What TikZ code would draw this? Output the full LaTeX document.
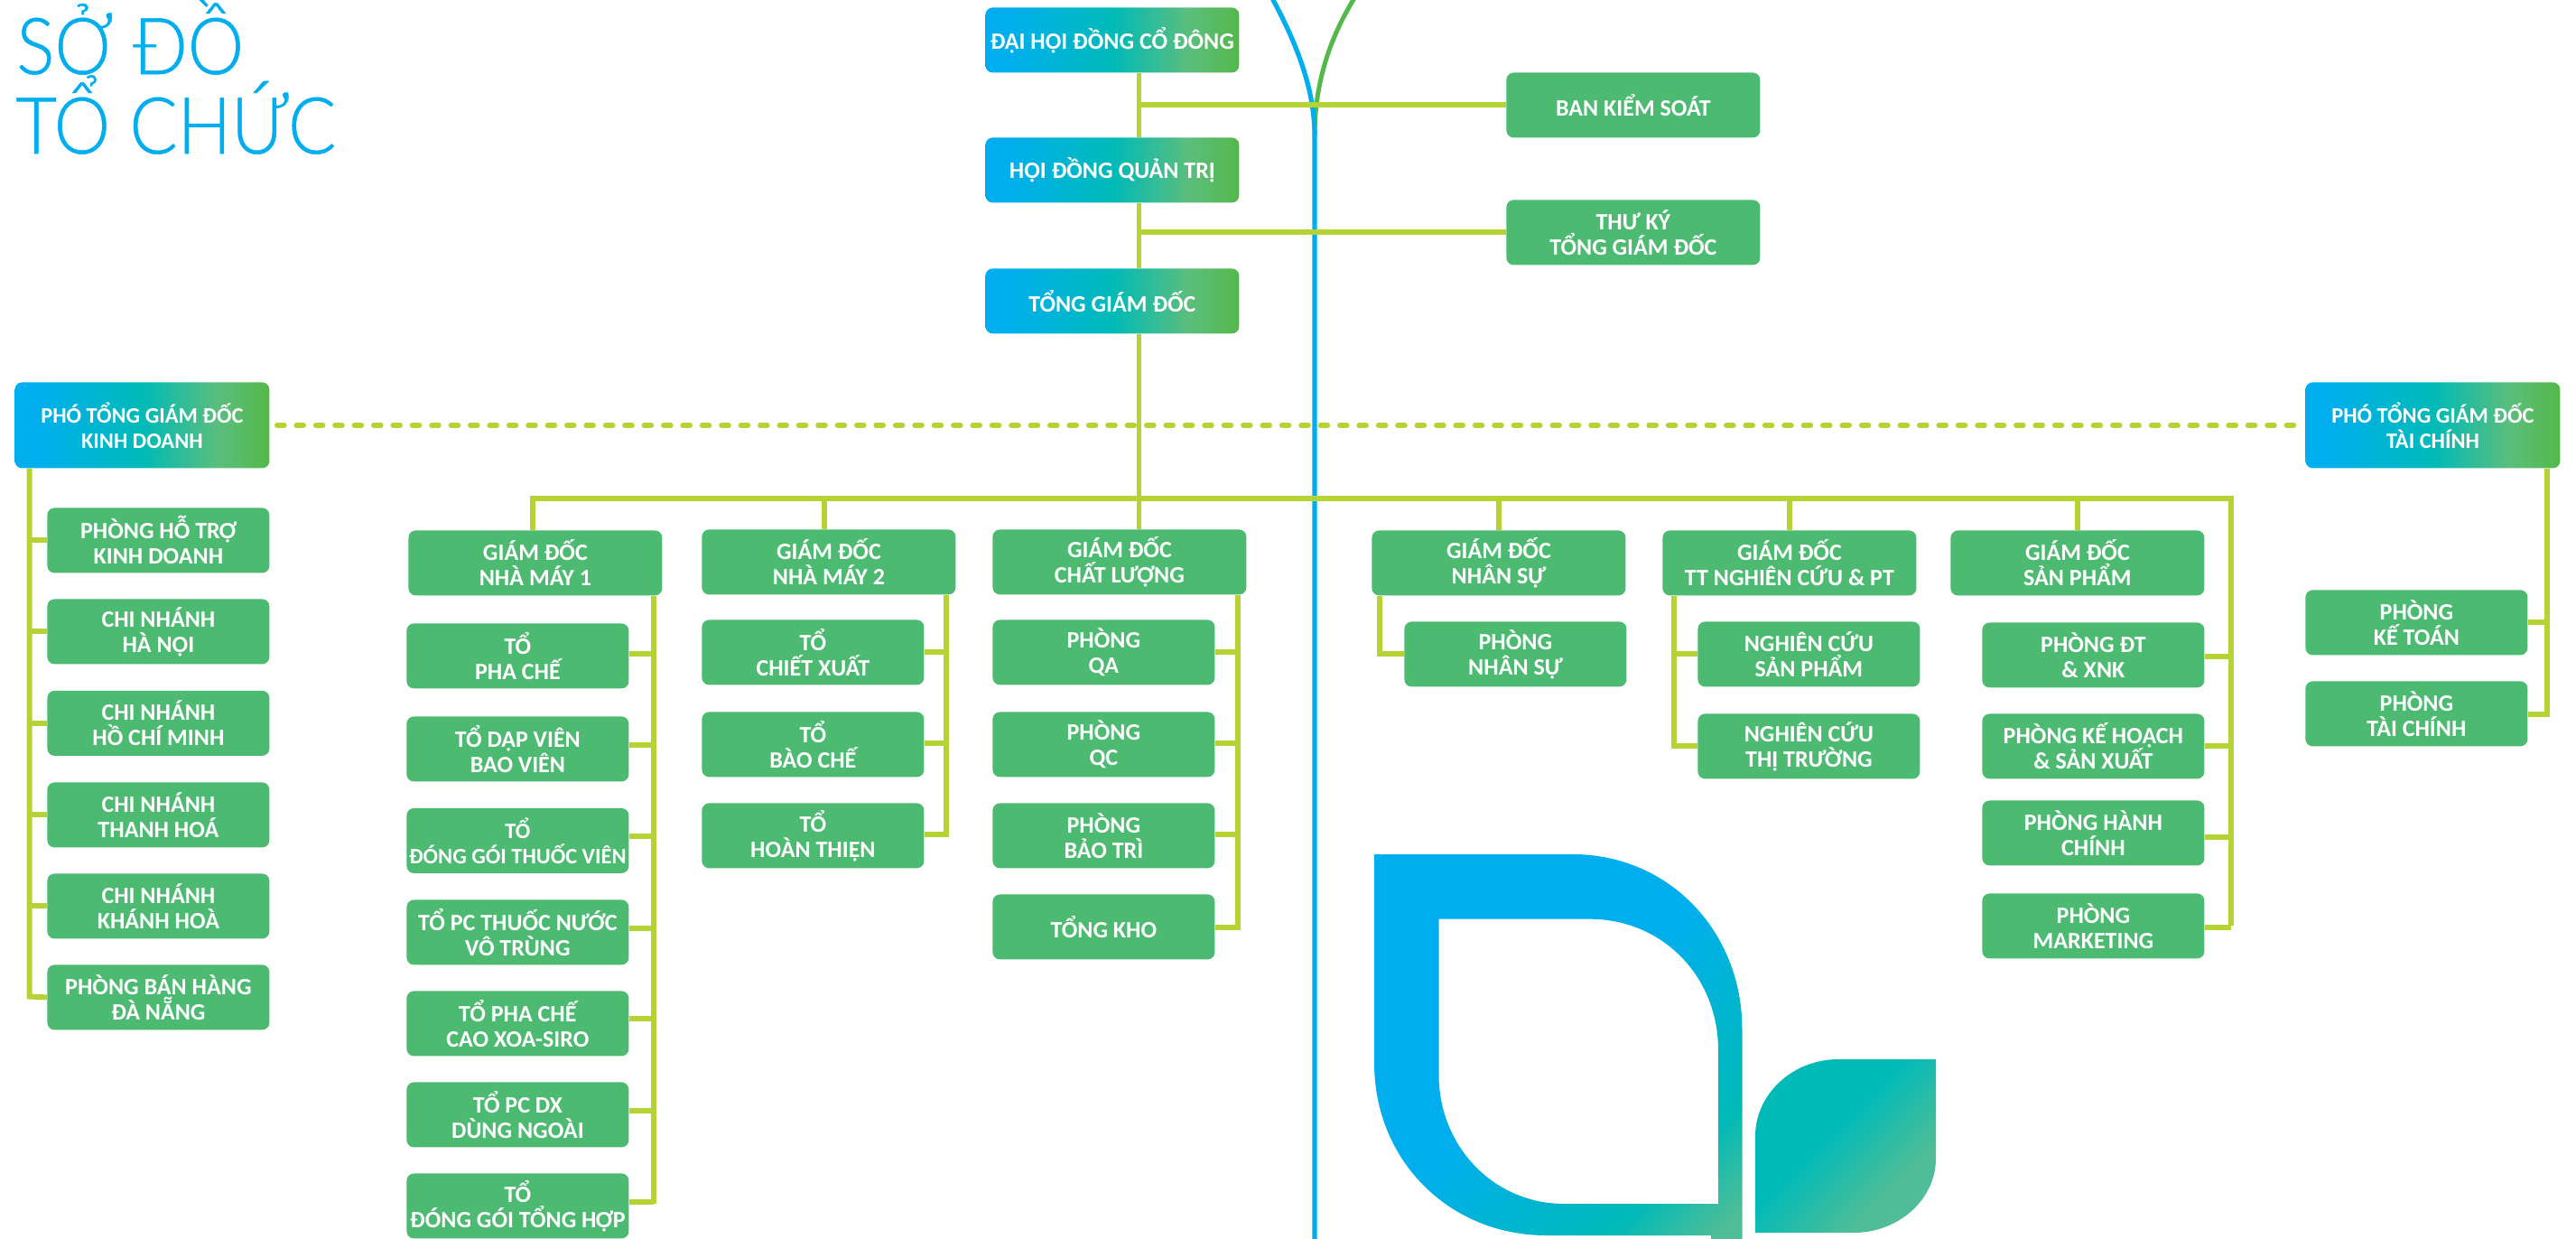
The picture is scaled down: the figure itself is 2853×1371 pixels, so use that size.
\documentclass[tikz,border=0pt]{standalone}
\usepackage{fontspec}
\setmainfont{Carlito}
\newfontfamily\titlefont[FakeStretch=0.905,FakeBold=0.6]{Lato Light}
\definecolor{boxgreen}{HTML}{4DBA72}
\definecolor{linegreen}{HTML}{B5D334}
\definecolor{skyblue}{HTML}{00AEEF}
\definecolor{teal}{HTML}{00BAB8}
\definecolor{midgreen}{HTML}{5BBE7C}
\definecolor{endgreen}{HTML}{55B84A}
\definecolor{softgreen}{HTML}{4FBD97}
\pgfdeclarehorizontalshading{boxgrad}{100bp}{color(0bp)=(skyblue);color(29bp)=(skyblue);color(50bp)=(teal);color(65bp)=(midgreen);color(75bp)=(endgreen);color(100bp)=(endgreen)}
\pgfdeclarehorizontalshading{biglogo}{100bp}{color(0bp)=(skyblue);color(48bp)=(skyblue);color(72bp)=(teal);color(82bp)=(softgreen);color(100bp)=(softgreen)}
\pgfdeclarehorizontalshading{smalllogo}{100bp}{color(0bp)=(teal);color(44bp)=(teal);color(68bp)=(softgreen);color(100bp)=(softgreen)}
\tikzset{
  boxbase/.style={anchor=north west,rounded corners=4pt,inner sep=0pt,text=white,align=center,
    font=\fontsize{13}{14}\selectfont\bfseries},
  smalltext/.style={font=\fontsize{12.2}{14}\selectfont\bfseries},
  leaf/.style={boxbase,fill=boxgreen,minimum width=123pt,minimum height=36pt},
  head/.style={boxbase,fill=boxgreen,minimum width=140.5pt,minimum height=36pt},
  grad/.style={boxbase,shade,shading=boxgrad,minimum width=140.5pt,minimum height=36pt},
  gradtall/.style={grad,smalltext,minimum width=141pt,minimum height=47.5pt},
  link/.style={draw=linegreen,line width=3pt},
  thinlink/.style={draw=linegreen,line width=2.3pt},
  dashlink/.style={draw=linegreen,line width=2.8pt,line cap=round,dash pattern=on 4pt off 6.7pt},
  titletext/.style={anchor=base west,inner sep=0pt,text=skyblue,font=\fontsize{43.5}{43.5}\selectfont\titlefont}
}
\begin{document}
\begin{tikzpicture}[x=0.5pt,y=-0.5pt]
\useasboundingbox (0,0) rectangle (2853,1371);
% logo
\begin{scope}
\clip (0,0) rectangle (2853,1371);
\shade[shading=biglogo,shading angle=-45,even odd rule]
  (1522,946) -- (1742,946) .. controls (1847,946) and (1929.5,1030) .. (1929.5,1140) -- (1929.5,1380) -- (1895,1380) -- (1895,1368) -- (1713,1368)
  .. controls (1605,1368) and (1522,1285) .. (1522,1177) -- cycle
  (1593.5,1017.7) -- (1593.5,1190) .. controls (1593.5,1270) and (1655,1333) .. (1732,1333) -- (1903,1333) -- (1903,1163)
  .. controls (1903,1080) and (1840,1017.7) .. (1761,1017.7) -- cycle;
\shade[shading=smalllogo,shading angle=-45]
  (2144,1173) -- (2036,1173) .. controls (1985,1173) and (1944,1212) .. (1944,1258) -- (1944,1365) -- (2053,1365)
  .. controls (2103,1365) and (2144,1328) .. (2144,1283) -- cycle;
\end{scope}
% curves
\draw[endgreen,line width=2.5pt] (1500,-2) .. controls (1474,40) and (1456,90) .. (1456,150);
\draw[skyblue,line width=2.6pt] (1409,-2) .. controls (1437,50) and (1456,100) .. (1456,150) -- (1456,1373);
% title
\node[titletext] (t1) at (18,82) {SỞ ĐỒ};
\node[titletext] (t2) at (17,170) {TỔ CHỨC};
% top
\node[grad] (dh) at (1091,8) {ĐẠI HỘI ĐỒNG CỔ ĐÔNG};
\node[grad] (hd) at (1091,152) {HỘI ĐỒNG QUẢN TRỊ};
\node[grad] (tg) at (1091,297) {TỔNG GIÁM ĐỐC};
\node[head] (bk) at (1668,80) {BAN KIỂM SOÁT};
\node[head] (tk) at (1668,221) {THƯ KÝ\\TỔNG GIÁM ĐỐC};
% vice directors
\node[gradtall] (kd) at (16,423) {PHÓ TỔNG GIÁM ĐỐC\\KINH DOANH};
\node[gradtall] (tc) at (2553,423) {PHÓ TỔNG GIÁM ĐỐC\\TÀI CHÍNH};
% left column
\node[leaf] (l1) at (52,562) {PHÒNG HỖ TRỢ\\KINH DOANH};
\node[leaf] (l2) at (52,663) {CHI NHÁNH\\HÀ NỘI};
\node[leaf] (l3) at (52,764.5) {CHI NHÁNH\\HỒ CHÍ MINH};
\node[leaf] (l4) at (52,866) {CHI NHÁNH\\THANH HOÁ};
\node[leaf] (l5) at (52,967) {CHI NHÁNH\\KHÁNH HOÀ};
\node[leaf] (l6) at (52,1068) {PHÒNG BÁN HÀNG\\ĐÀ NẴNG};
% factory 1
\node[head] (nm1) at (452,587) {GIÁM ĐỐC\\NHÀ MÁY 1};
\node[leaf] (a1) at (450,690) {TỔ\\PHA CHẾ};
\node[leaf] (a2) at (450,793) {TỔ DẬP VIÊN\\BAO VIÊN};
\node[leaf,smalltext] (a3) at (450,894.5) {TỔ\\ĐÓNG GÓI THUỐC VIÊN};
\node[leaf] (a4) at (450,996) {TỔ PC THUỐC NƯỚC\\VÔ TRÙNG};
\node[leaf] (a5) at (450,1097) {TỔ PHA CHẾ\\CAO XOA-SIRO};
\node[leaf] (a6) at (450,1198) {TỔ PC DX\\DÙNG NGOÀI};
\node[leaf] (a7) at (450,1299) {TỔ\\ĐÓNG GÓI TỔNG HỢP};
% factory 2
\node[head] (nm2) at (777,586) {GIÁM ĐỐC\\NHÀ MÁY 2};
\node[leaf] (b1) at (777,686) {TỔ\\CHIẾT XUẤT};
\node[leaf] (b2) at (777,788) {TỔ\\BÀO CHẾ};
\node[leaf] (b3) at (777,889) {TỔ\\HOÀN THIỆN};
% quality
\node[head] (cl) at (1099,586) {GIÁM ĐỐC\\CHẤT LƯỢNG};
\node[leaf] (c1) at (1099,686) {PHÒNG\\QA};
\node[leaf] (c2) at (1099,788) {PHÒNG\\QC};
\node[leaf] (c3) at (1099,889) {PHÒNG\\BẢO TRÌ};
\node[leaf] (c4) at (1099,990) {TỔNG KHO};
% HR
\node[head] (ns) at (1519,587) {GIÁM ĐỐC\\NHÂN SỰ};
\node[leaf] (d1) at (1555,688) {PHÒNG\\NHÂN SỰ};
% research
\node[head] (nc) at (1841,587) {GIÁM ĐỐC\\TT NGHIÊN CỨU \& PT};
\node[leaf] (e1) at (1880,688) {NGHIÊN CỨU\\SẢN PHẨM};
\node[leaf] (e2) at (1880,790) {NGHIÊN CỨU\\THỊ TRƯỜNG};
% product
\node[head] (sp) at (2160,587) {GIÁM ĐỐC\\SẢN PHẨM};
\node[leaf] (f1) at (2195,689) {PHÒNG ĐT\\\& XNK};
\node[leaf] (f2) at (2195,790) {PHÒNG KẾ HOẠCH\\\& SẢN XUẤT};
\node[leaf] (f3) at (2195,886) {PHÒNG HÀNH\\CHÍNH};
\node[leaf] (f4) at (2195,989) {PHÒNG\\MARKETING};
% finance
\node[leaf] (g1) at (2553,653) {PHÒNG\\KẾ TOÁN};
\node[leaf] (g2) at (2553,754) {PHÒNG\\TÀI CHÍNH};
% connector anchors
\coordinate (cx) at (1261.5,551.5);
\coordinate (busL) at (590,551.5);
\coordinate (busR) at (2471,551.5);
% centre trunk
\draw[thinlink] (dh.south -| cx) -- (hd.north -| cx);
\draw[thinlink] (hd.south -| cx) -- (tg.north -| cx);
\draw[thinlink] (tg.south -| cx) -- (cl.north -| cx);
\draw[link] (bk.west) -- (bk.west -| cx);
\draw[link] (tk.west) -- (tk.west -| cx);
\draw[dashlink] ([xshift=4pt]kd.east) -- (tc.west);
% bus
\draw[link] (nm1.north -| busL) -- (busL) -- (busR) -- (busR |- f4.east);
\draw[link] (nm2.north -| 912.5,0) -- (912.5,551.5);
\draw[link] (ns.north) -- (ns.north |- cx);
\draw[link] (nc.north -| 1981.5,0) -- (1981.5,551.5);
\draw[link] (sp.north) -- (sp.north |- cx);
% left
\draw[link] (kd.south -| 32.6,0) -- (32.6,1103.5) -- (l6.west);
\foreach \n in {l1,l2,l3,l4,l5} \draw[link] (\n.west) -- (\n.west -| 32.6,0);
% factory 1
\draw[link] (nm1.south -| 724,0) -- (724,1333);
\foreach \n/\y in {a1/724,a2/825,a3/926,a4/1028,a5/1128,a6/1230,a7/1331} \draw[link] (\n.east |- 0,\y) -- (724,\y);
% factory 2
\draw[link] (nm2.south -| 1048,0) -- (1048,924) -- (b3.east |- 0,924);
\foreach \n/\y in {b1/722,b2/823} \draw[link] (\n.east |- 0,\y) -- (1048,\y);
% quality
\draw[link] (cl.south -| 1371,0) -- (1371,1027) -- (c4.east |- 0,1027);
\foreach \n/\y in {c1/722,c2/823,c3/924} \draw[link] (\n.east |- 0,\y) -- (1371,\y);
% HR
\draw[link] (ns.south -| 1528,0) -- (1528,724) -- (d1.west |- 0,724);
% research
\draw[link] (nc.south -| 1854,0) -- (1854,826) -- (e2.west |- 0,826);
\draw[link] (e1.west |- 0,724) -- (1854,724);
% product
\foreach \n/\y in {f1/727,f2/826,f3/927,f4/1027} \draw[link] (\n.east |- 0,\y) -- (2471,\y);
% finance
\draw[link] (tc.south -| 2821,0) -- (2821,791) -- (g2.east |- 0,791);
\draw[link] (g1.east |- 0,689) -- (2821,689);
\end{tikzpicture}
\end{document}
